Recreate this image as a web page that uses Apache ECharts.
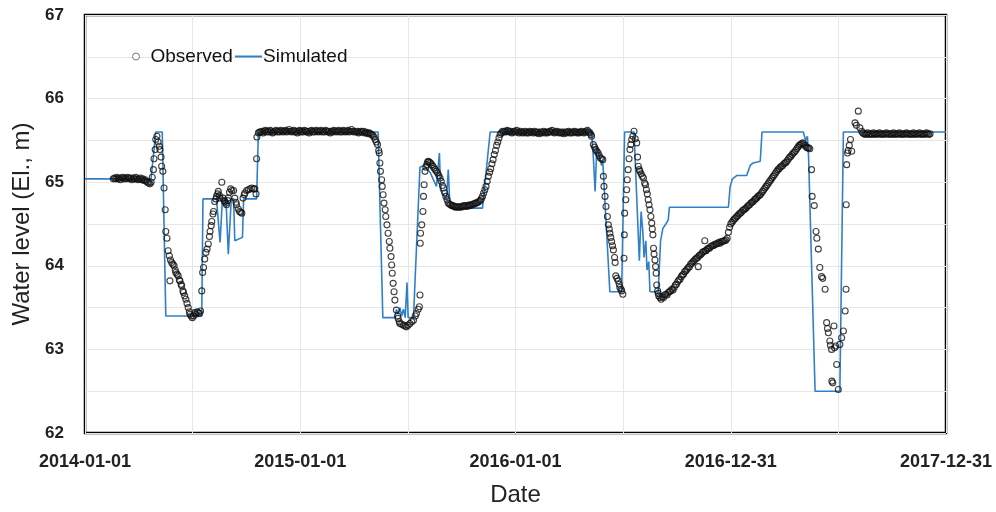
<!DOCTYPE html>
<html>
<head>
<meta charset="utf-8">
<script src="https://cdn.jsdelivr.net/npm/echarts@6/dist/echarts.min.js"></script>
<style>
html,body{margin:0;padding:0;background:#fff;}
#chart{width:996px;height:512px;}
</style>
</head>
<body>
<div id="chart"></div>
<script>
// x values are days since 2014-01-01
const xTickDays = [0, 365, 730, 1095, 1460];
const yTicks = [62, 63, 64, 65, 66, 67];

const simulated = [[0,65.04],[112,65.04],[120,65.6],[131,65.6],[137,63.4],[198,63.4],[200,64.8],[223,64.8],[229,64.28],[233,64.8],[239,64.8],[243,64.14],[248,64.8],[252,64.8],[254,64.3],[267,64.34],[269,64.8],[291,64.8],[294,65.6],
[497,65.6],[505,63.38],[526,63.38],[528,63.48],[531,63.42],[534,63.5],[537,63.4],[540,63.48],[543,63.38],[546,63.8],[548,63.38],[557,63.38],[568,65.18],[575,65.2],[585,65.12],[596,64.95],[601,65.35],[603,64.9],[613,64.8],[616,65.15],[619,64.69],[674,64.69],[687,65.6],
[859,65.6],[862,65.3],[865,64.89],[868,65.44],[872,65.32],[876,65.2],[878,65.25],[890,63.69],[910,63.69],[915,65.6],[931,65.6],[940,64.06],[943,64.65],[946,64.4],[948,64.1],[951,64.3],[953,63.95],[956,64.05],[958,63.69],[972,63.69],[976,64.3],[980,64.45],[985,64.5],[989,64.55],[991,64.7],[1091,64.7],[1094,64.95],[1098,65.04],[1105,65.08],[1122,65.08],[1128,65.2],[1133,65.23],[1145,65.25],[1148,65.6],
[1218,65.6],[1222,65.5],[1225,65.55],[1227,65.3],[1238,62.5],[1280,62.5],[1286,65.6],[1460,65.6]];

const observed2014 = [[48,65.04],[50,65.05],[52,65.04],[54,65.06],[56,65.04],[58,65.05],[60,65.03],[62,65.05],[64,65.06],[66,65.04],[68,65.05],[70,65.04],[72,65.06],[74,65.05],[76,65.04],[78,65.05],[80,65.03],[82,65.05],[84,65.04],[86,65.06],[88,65.04],[90,65.03],[92,65.04],[94,65.05],[96,65.03],[98,65.04],[100,65.02],[102,65.03],[104,65.01],[106,65.0],[108,64.99],[110,64.98],[112,65.0],[114,65.06],[116,65.15],[117,65.28],[119,65.39],[120,65.51],[122,65.55],[124,65.48],[126,65.43],[127,65.39],[129,65.3],[130,65.19],[132,65.13],[134,64.93],[136,64.67],[137,64.41],[139,64.33],[141,64.18],[143,64.12],[144,63.82],[145,64.07],[147,64.04],[149,64.02],[151,64.0],[153,63.95],[154,63.92],[156,63.9],[158,63.88],[160,63.83],[161,63.82],[163,63.78],[164,63.76],[166,63.7],[167,63.68],[169,63.64],[171,63.6],[173,63.55],[175,63.5],[177,63.45],[178,63.42],[180,63.4],[182,63.38],[184,63.4],[186,63.44],[188,63.42],[190,63.45],[192,63.44],[194,63.43],[196,63.46],[198,63.7],[199.5,63.92],[201,63.98],[203,64.08],[205,64.16],[207,64.2],[209,64.26],[211,64.35],[212,64.41],[214,64.48],[215,64.53],[217,64.62],[218,64.65],[220,64.77],[222,64.8],[223,64.83],[225,64.86],[226,64.89],[228,64.84],[229,64.81],[232,65.0],[234,64.81],[236,64.78],[237,64.77],[239,64.75],[240,64.73],[242,64.78],[243,64.81],[245,64.88],[247,64.92],[249,64.9],[252,64.9],[254,64.81],[256,64.76],[257,64.73],[260,64.68],[262,64.65],[264,64.64],[266,64.63],[268,64.81],[270,64.85],[271,64.87],[274,64.9],[277,64.91],[280,64.92],[283,64.93],[286,64.92],[288,64.92],[290,64.86],[291,65.28],[291.5,65.54],[294,65.59],[296,65.6]];

const observed2015 = [[298,65.6],[300,65.61],[302,65.59],[304,65.61],[306,65.62],[308,65.6],[310,65.61],[312,65.6],[314,65.62],[316,65.61],[318,65.59],[320,65.6],[322,65.61],[324,65.62],[326,65.6],[328,65.61],[330,65.6],[332,65.62],[334,65.61],[336,65.6],[338,65.61],[340,65.62],[342,65.6],[344,65.61],[346,65.63],[348,65.61],[350,65.6],[352,65.61],[354,65.62],[356,65.6],[358,65.61],[360,65.59],[362,65.61],[364,65.62],[366,65.6],[368,65.61],[370,65.6],[372,65.62],[374,65.61],[376,65.6],[378,65.61],[380,65.59],[382,65.61],[384,65.62],[386,65.6],[388,65.61],[390,65.6],[392,65.62],[394,65.61],[396,65.6],[398,65.61],[400,65.62],[402,65.6],[404,65.61],[406,65.6],[408,65.62],[410,65.61],[412,65.6],[414,65.61],[416,65.59],[418,65.61],[420,65.6],[422,65.62],[424,65.61],[426,65.6],[428,65.61],[430,65.62],[432,65.6],[434,65.61],[436,65.6],[438,65.62],[440,65.61],[442,65.6],[444,65.61],[446,65.62],[448,65.6],[450,65.61],[452,65.63],[454,65.61],[456,65.6],[458,65.61],[460,65.6],[462,65.61],[464,65.59],[466,65.6],[468,65.61],[470,65.6],[472,65.61],[474,65.59],[476,65.6],[478,65.59],[480,65.58],[482,65.59],[484,65.58],[486,65.57],[488,65.56],[490,65.54],[492,65.51],[494,65.48],[496,65.45],[498,65.38],[499,65.35],[500,65.23],[501,65.13],[503,65.03],[504,64.95],[505.5,64.85],[507,64.75],[509,64.67],[510,64.59],[512,64.49],[514,64.39],[516,64.29],[517,64.21],[519,64.11],[520,64.01],[521,63.91],[522.5,63.79],[524,63.69],[525.5,63.59],[528,63.47],[530,63.4],[531,63.37],[533,63.33],[534,63.31],[537,63.3],[540,63.29],[543,63.28],[545,63.27],[548,63.29],[551,63.31],[554,63.33],[557,63.35],[560,63.4],[562,63.43],[565,63.48],[567,63.51],[568,63.65],[568.5,64.27],[569,64.39],[571,64.49],[573,64.65],[574,64.83],[575,64.97],[576.5,65.13],[578,65.18],[579.5,65.21],[581,65.24],[582,65.25],[584,65.24],[586,65.23],[588,65.21],[590,65.19],[592,65.17],[594,65.15],[596,65.13],[598,65.11],[600,65.08],[602,65.05],[604,65.01],[606,64.96],[608,64.93],[610,64.87],[612,64.83],[614,64.79],[616,64.75],[618,64.74],[620,64.73],[622,64.72],[624,64.72],[626,64.71],[628,64.7],[630,64.71],[632,64.7],[634,64.7],[636,64.71],[638,64.7],[640,64.71],[642,64.72],[644,64.71],[646,64.72],[648,64.71],[650,64.72],[652,64.73],[654,64.72],[656,64.73],[658,64.74],[660,64.74],[662,64.75],[664,64.75],[666,64.76],[668,64.77],[670,64.78],[672,64.8],[674,64.83],[676,64.87],[678,64.91],[680,64.95],[682,65.01],[684,65.07],[686,65.12],[688,65.16],[690,65.22],[692,65.27],[694,65.33],[696,65.38],[698,65.44],[700,65.48],[702,65.53],[704,65.57],[706,65.59],[708,65.61]];

const observed2016 = [[710,65.6],[712,65.61],[714,65.6],[716,65.62],[718,65.61],[720,65.6],[722,65.61],[724,65.59],[726,65.6],[728,65.61],[730,65.6],[732,65.62],[734,65.6],[736,65.59],[738,65.61],[740,65.6],[742,65.59],[744,65.6],[746,65.61],[748,65.59],[750,65.6],[752,65.59],[754,65.61],[756,65.6],[758,65.6],[760,65.59],[762,65.61],[764,65.6],[766,65.59],[768,65.6],[770,65.58],[772,65.6],[774,65.59],[776,65.6],[778,65.61],[780,65.59],[782,65.6],[784,65.59],[786,65.6],[788,65.61],[790,65.6],[792,65.62],[794,65.6],[796,65.59],[798,65.6],[800,65.61],[802,65.6],[804,65.59],[806,65.6],[808,65.59],[810,65.6],[812,65.58],[814,65.6],[816,65.59],[818,65.6],[820,65.61],[822,65.59],[824,65.6],[826,65.59],[828,65.6],[830,65.61],[832,65.6],[834,65.59],[836,65.6],[838,65.59],[840,65.6],[842,65.61],[844,65.6],[846,65.59],[848,65.6],[850,65.61],[852,65.62],[854,65.6],[856,65.59],[858,65.57],[859,65.55],[862,65.45],[864,65.42],[866,65.39],[868,65.37],[870,65.35],[872,65.32],[874,65.29],[876,65.28],[878,65.27],[879,65.07],[880,64.95],[881.8,64.83],[883.5,64.71],[885.8,64.59],[887.5,64.49],[889,64.44],[890,64.39],[891.5,64.34],[893,64.29],[894.5,64.24],[896,64.19],[898,64.1],[899,64.04],[900,63.88],[902,63.85],[904,63.82],[906,63.78],[907,63.74],[909,63.72],[910,63.7],[912,63.66],[914,64.09],[914.5,64.37],[915,64.63],[917,64.79],[918.5,64.91],[919.5,65.03],[921,65.15],[922.5,65.28],[924,65.39],[925.5,65.45],[927,65.51],[929,65.55],[931,65.61],[933,65.52],[935.5,65.47],[937,65.3],[938.3,65.19],[940,65.15],[941,65.13],[943,65.1],[945,65.07],[947,65.05],[949,64.99],[950.5,64.97],[952,64.91],[953.5,64.86],[955,64.79],[956.5,64.73],[958,64.67],[959.5,64.59],[961,64.51],[962,64.44],[963,64.37],[964,64.21],[965,64.14],[966.5,64.07],[967.5,63.99],[968.5,63.91],[969.5,63.77],[971,63.7],[972,63.67],[973,63.64],
[975,63.62],[977,63.6],[979,63.63],[981,63.62],[983,63.65],[985,63.66],[987,63.65],[989,63.68],[991,63.69],[993,63.7],[995,63.72],[997,63.71],[999,63.74],[1001,63.77],[1003,63.78],[1005,63.81],[1007,63.83],[1009,63.84],[1011,63.87],[1013,63.89],[1015,63.9],[1017,63.93],[1019,63.94],[1021,63.96],[1023,63.98],[1025,63.99],[1027,64.02],[1029,64.03],[1031,64.05],[1033,64.06],[1035,64.08],[1037,64.09],[1039,64.1],[1040,63.99],[1041,64.12],[1043,64.13],[1045,64.14],[1047,64.16],[1049,64.17],[1051,64.3],[1052,64.18],[1053,64.18],[1055,64.2],[1057,64.21],[1059,64.21],[1061,64.23],[1063,64.24],[1065,64.24],[1067,64.25],[1069,64.26],[1071,64.26],[1073,64.27],[1075,64.28],[1077,64.27],[1079,64.29],[1081,64.29],[1083,64.3],[1085,64.3],[1087,64.31],[1089,64.33],[1091,64.4],[1093,64.46]];

const observed2017 = [[1095,64.5],[1097,64.52],[1099,64.54],[1101,64.56],[1103,64.57],[1105,64.59],[1107,64.6],[1109,64.62],[1111,64.63],[1113,64.64],[1115,64.66],[1117,64.67],[1119,64.68],[1121,64.69],[1123,64.71],[1125,64.72],[1127,64.73],[1129,64.75],[1131,64.76],[1133,64.77],[1135,64.79],[1137,64.8],[1139,64.81],[1141,64.83],[1143,64.84],[1145,64.85],[1147,64.87],[1149,64.89],[1151,64.91],[1153,64.93],[1155,64.95],[1157,64.97],[1159,64.99],[1161,65.01],[1163,65.03],[1165,65.05],[1167,65.07],[1169,65.09],[1171,65.11],[1173,65.13],[1175,65.15],[1177,65.16],[1179,65.18],[1181,65.19],[1183,65.2],[1185,65.22],[1187,65.23],[1189,65.24],[1191,65.26],[1193,65.28],[1195,65.3],[1197,65.31],[1199,65.33],[1201,65.35],[1203,65.36],[1205,65.38],[1207,65.4],[1209,65.42],[1211,65.44],[1213,65.45],[1215,65.46],[1217,65.47],[1219,65.46],[1221,65.44],[1223,65.42],[1225,65.41],[1227,65.41],[1229,65.4],
[1232,65.15],[1233,64.83],[1236.6,64.72],[1239.6,64.41],[1241,64.33],[1243.5,64.2],[1246,63.98],[1249,63.87],[1251,63.85],[1255,63.72],[1257.6,63.32],[1259,63.25],[1260.5,63.2],[1263,63.1],[1264,63.05],[1266,63.0],[1266.5,62.62],[1268,62.6],[1270,63.28],[1271,63.02],[1273,63.04],[1274.6,62.82],[1277.4,62.52],[1280,63.06],[1283,63.14],[1286,63.22],[1289,63.46],[1290.5,63.72],[1290.8,64.73],[1291.6,65.21],[1293,65.35],[1294,65.38],[1296,65.44],[1298,65.51],[1300,65.37],[1305.7,65.71],[1308,65.68],[1311.3,65.85],[1314,65.65],[1317,65.61],[1319,65.59],
[1321,65.58],[1323,65.57],[1325,65.58],[1327,65.59],[1329,65.57],[1331,65.58],[1333,65.58],[1335,65.57],[1337,65.59],[1339,65.58],[1341,65.57],[1343,65.58],[1345,65.58],[1347,65.59],[1349,65.57],[1351,65.58],[1353,65.58],[1355,65.57],[1357,65.58],[1359,65.59],[1361,65.58],[1363,65.57],[1365,65.58],[1367,65.58],[1369,65.57],[1371,65.59],[1373,65.58],[1375,65.57],[1377,65.58],[1379,65.58],[1381,65.59],[1383,65.57],[1385,65.58],[1387,65.58],[1389,65.57],[1391,65.58],[1393,65.59],[1395,65.58],[1397,65.57],[1399,65.58],[1401,65.58],[1403,65.57],[1405,65.59],[1407,65.58],[1409,65.57],[1411,65.58],[1413,65.58],[1415,65.59],[1417,65.57],[1419,65.58],[1421,65.58],[1423,65.57],[1425,65.58],[1427,65.59],[1429,65.58],[1431,65.57],[1433,65.58]];

const observed = observed2014.concat(observed2015, observed2016, observed2017);

const DAY0 = Date.UTC(2014, 0, 1);
function dayLabel(v) {
  return new Date(DAY0 + v * 86400000).toISOString().slice(0, 10);
}

const FONT = '"Liberation Sans", Arial, sans-serif';
const gridColor = '#e6e6e6';
const simColor = '#2f80c8';

const chart = echarts.init(document.getElementById('chart'), null, {renderer: 'canvas'});
chart.setOption({
  animation: false,
  backgroundColor: '#fff',
  textStyle: {fontFamily: FONT},
  grid: {left: 85, right: 50, top: 15, bottom: 78, show: true, borderColor: '#000', borderWidth: 2.5, backgroundColor: 'transparent'},
  legend: [
    {data: [{name: 'Observed', icon: 'circle', itemStyle: {color: '#fff', borderColor: '#555', borderWidth: 1}}],
     left: 132, top: 47, padding: 0, itemWidth: 7, itemHeight: 7,
     textStyle: {fontSize: 19, color: '#111', fontFamily: FONT, padding: [0, 0, 0, 6]}},
    {data: [{name: 'Simulated', icon: 'rect', itemStyle: {color: simColor}}],
     left: 235, top: 47, padding: 0, itemWidth: 27, itemHeight: 2,
     textStyle: {fontSize: 19, color: '#111', fontFamily: FONT, padding: [0, 0, 0, -4]}}
  ],
  xAxis: {
    type: 'value', min: xTickDays[0], max: xTickDays[xTickDays.length - 1], interval: 365,
    name: 'Date', nameLocation: 'middle', nameGap: 50,
    nameTextStyle: {fontSize: 24, color: '#222', fontFamily: FONT},
    axisLine: {show: false}, axisTick: {show: false},
    axisLabel: {fontSize: 18, fontWeight: 'bold', color: '#222', margin: 20, fontFamily: FONT,
      showMinLabel: true, showMaxLabel: true, formatter: dayLabel},
    splitLine: {show: true, lineStyle: {color: gridColor, width: 1}},
    minorTick: {show: false, splitNumber: 2},
    minorSplitLine: {show: true, lineStyle: {color: gridColor, width: 1}}
  },
  yAxis: {
    type: 'value', min: yTicks[0], max: yTicks[yTicks.length - 1], interval: 1,
    name: 'Water level (El., m)', nameLocation: 'middle', nameGap: 48,
    nameTextStyle: {fontSize: 24, color: '#222', fontFamily: FONT},
    axisLine: {show: false}, axisTick: {show: false},
    axisLabel: {fontSize: 17, fontWeight: 'bold', color: '#222', margin: 21, fontFamily: FONT},
    splitLine: {show: true, lineStyle: {color: gridColor, width: 1}},
    minorTick: {show: false, splitNumber: 2},
    minorSplitLine: {show: true, lineStyle: {color: gridColor, width: 1}}
  },
  series: [
    {name: 'Simulated', type: 'line', data: simulated, symbol: 'none', showSymbol: false,
     lineStyle: {color: simColor, width: 1.6}, itemStyle: {color: simColor}, z: 2},
    {name: 'Observed', type: 'scatter', data: observed, symbol: 'circle', symbolSize: 6,
     itemStyle: {color: 'rgba(255,255,255,0)', borderColor: '#111', borderWidth: 1.1}, z: 3}
  ]
});
</script>
</body>
</html>
